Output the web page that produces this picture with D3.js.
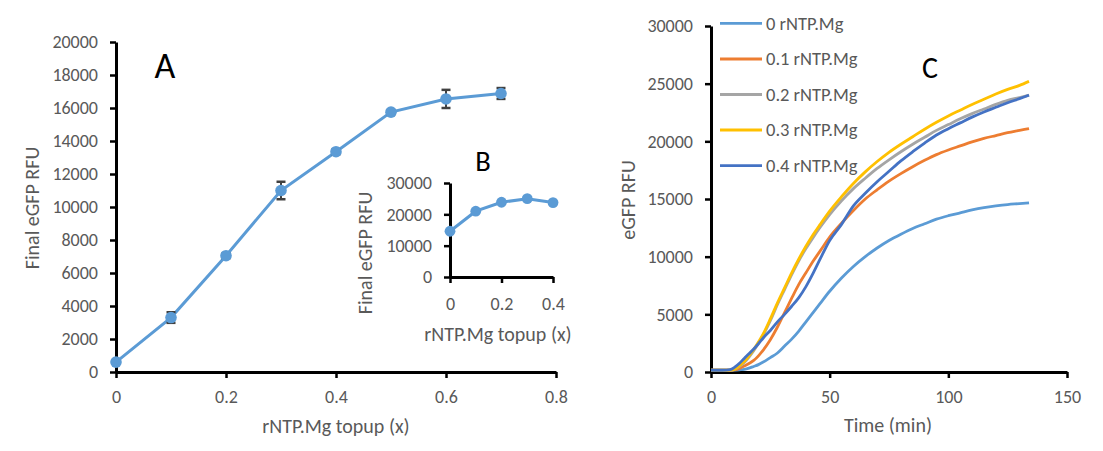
<!DOCTYPE html>
<html>
<head>
<meta charset="utf-8">
<script src="https://cdn.jsdelivr.net/npm/d3@7/dist/d3.min.js"></script>
<style>
  html, body { margin: 0; padding: 0; background: #fff; }
  svg { display: block; font-family: Carlito, Calibri, "Open Sans", sans-serif; }
</style>
</head>
<body>
<svg id="chart" width="1103" height="451"></svg>
<script>
// ---------- Panel A data ----------
const aDose = [0, 0.1, 0.2, 0.3, 0.4, 0.5, 0.6, 0.7];
const aFinal = [600, 3300, 7050, 11000, 13350, 15750, 16550, 16880];
const aErr = [100, 320, 150, 530, 150, 120, 550, 330];
const aXTicks = [0, 0.2, 0.4, 0.6, 0.8];
const aYTicks = [0, 2000, 4000, 6000, 8000, 10000, 12000, 14000, 16000, 18000, 20000];

// ---------- Panel B (inset) data ----------
const bDose = [0, 0.1, 0.2, 0.3, 0.4];
const bFinal = [14600, 21000, 23850, 25000, 23750];
const bXTicks = [0, 0.2, 0.4];
const bYTicks = [0, 10000, 20000, 30000];

// ---------- Panel C data ----------
const timeMin = [0, 5, 8, 10, 12, 14, 16, 18, 20, 22, 25, 28, 31, 34, 37, 40, 43, 46, 50, 55, 60, 65, 70, 75, 80, 85, 90, 95, 100, 105, 110, 115, 120, 125, 130, 134];
const rfu00 = [150, 150, 150, 160, 190, 230, 330, 480, 640, 860, 1250, 1650, 2250, 2850, 3550, 4350, 5150, 5950, 7000, 8150, 9150, 10000, 10750, 11400, 11950, 12450, 12850, 13250, 13550, 13800, 14050, 14250, 14400, 14520, 14600, 14670];
const rfu01 = [150, 150, 150, 180, 300, 520, 740, 1000, 1400, 1900, 2800, 3900, 5150, 6400, 7600, 8600, 9600, 10500, 11700, 12900, 14000, 15000, 15800, 16550, 17200, 17800, 18350, 18850, 19250, 19600, 19950, 20250, 20500, 20750, 20950, 21110];
const rfu02 = [150, 150, 150, 230, 480, 820, 1300, 1850, 2500, 3200, 4450, 5850, 7150, 8450, 9650, 10700, 11650, 12550, 13650, 14850, 15900, 16800, 17650, 18400, 19100, 19750, 20350, 20950, 21450, 21950, 22400, 22800, 23200, 23550, 23800, 24000];
const rfu03 = [150, 150, 160, 250, 550, 900, 1400, 1950, 2600, 3300, 4600, 6000, 7300, 8600, 9800, 10900, 11900, 12800, 13950, 15200, 16350, 17350, 18250, 19050, 19750, 20400, 21050, 21650, 22200, 22700, 23200, 23650, 24100, 24500, 24850, 25200];
const rfu04 = [150, 150, 200, 420, 760, 1180, 1580, 1990, 2450, 2950, 3600, 4350, 5000, 5700, 6450, 7400, 8550, 9800, 11400, 12800, 14400, 15500, 16500, 17400, 18300, 19100, 19850, 20550, 21100, 21600, 22100, 22550, 22950, 23350, 23700, 24000];
const seriesNames = ["0 rNTP.Mg", "0.1 rNTP.Mg", "0.2 rNTP.Mg", "0.3 rNTP.Mg", "0.4 rNTP.Mg"];
const seriesColors = ["#5B9BD5", "#ED7D31", "#A5A5A5", "#FFC000", "#4472C4"];
const cXTicks = [0, 50, 100, 150];
const cYTicks = [0, 5000, 10000, 15000, 20000, 25000, 30000];

const svg = d3.select("#chart");
const TICK_COLOR = "#595959";
const FS = 18;      // tick labels
const TFS = 20;     // axis titles
const LFS = 18.5;   // legend

function styleAxis(g) {
  g.select(".domain").attr("stroke", "#000").attr("stroke-width", 3);
  g.selectAll(".tick line").attr("stroke", "#000").attr("stroke-width", 2.5);
  g.selectAll(".tick text").attr("fill", TICK_COLOR).attr("font-size", FS)
    .attr("font-family", 'Carlito, Calibri, "Open Sans", sans-serif');
}

function drawAxes(x, y, xTicks, yTicks, xFmt, yFmt, xPad) {
  const [y0] = y.range();
  const [x0] = x.range();
  svg.append("g").attr("transform", `translate(0,${y0})`)
    .call(d3.axisBottom(x).tickValues(xTicks).tickSize(6).tickPadding(xPad).tickSizeOuter(0).tickFormat(xFmt))
    .call(styleAxis);
  svg.append("g").attr("transform", `translate(${x0},0)`)
    .call(d3.axisLeft(y).tickValues(yTicks).tickSize(6).tickPadding(12).tickSizeOuter(0).tickFormat(yFmt))
    .call(styleAxis);
}

function title(text, x, y, rotate, size) {
  const t = svg.append("text").text(text)
    .attr("fill", TICK_COLOR).attr("font-size", size || TFS).attr("text-anchor", "middle");
  if (rotate) t.attr("transform", `translate(${x},${y}) rotate(-90)`);
  else t.attr("x", x).attr("y", y);
}

const numFmt = d => String(d);

// ---------- Panel A ----------
const ax = d3.scaleLinear().domain([0, 0.8]).range([116, 556]);
const ay = d3.scaleLinear().domain([0, 20000]).range([372, 42]);
drawAxes(ax, ay, aXTicks, aYTicks, numFmt, numFmt, 12);

const aData = aDose.map((d, i) => ({ x: d, y: aFinal[i], e: aErr[i] }));
svg.append("path").datum(aData)
  .attr("fill", "none").attr("stroke", "#5B9BD5").attr("stroke-width", 3)
  .attr("d", d3.line().x(d => ax(d.x)).y(d => ay(d.y)));
const eb = svg.append("g").attr("stroke", "#404040").attr("stroke-width", 2);
aData.forEach(d => {
  eb.append("line").attr("x1", ax(d.x)).attr("x2", ax(d.x)).attr("y1", ay(d.y - d.e)).attr("y2", ay(d.y + d.e));
  eb.append("line").attr("x1", ax(d.x) - 4.5).attr("x2", ax(d.x) + 4.5).attr("y1", ay(d.y - d.e)).attr("y2", ay(d.y - d.e)).attr("stroke-width", 2.5);
  eb.append("line").attr("x1", ax(d.x) - 4.5).attr("x2", ax(d.x) + 4.5).attr("y1", ay(d.y + d.e)).attr("y2", ay(d.y + d.e)).attr("stroke-width", 2.5);
});
svg.append("g").selectAll("circle").data(aData).join("circle")
  .attr("cx", d => ax(d.x)).attr("cy", d => ay(d.y)).attr("r", 5.8)
  .attr("fill", "#5B9BD5");
title("rNTP.Mg topup (x)", 336, 433);
title("Final eGFP RFU", 39, 208, true);
svg.append("text").text("A").attr("x", 165).attr("y", 78).attr("text-anchor", "middle")
  .attr("font-size", 36).attr("fill", "#000");

// ---------- Panel B (inset) ----------
const bx = d3.scaleLinear().domain([0, 0.4]).range([450, 553]);
const by = d3.scaleLinear().domain([0, 30000]).range([277, 183]);
drawAxes(bx, by, bXTicks, bYTicks, numFmt, numFmt, 14);
const bData = bDose.map((d, i) => ({ x: d, y: bFinal[i] }));
svg.append("path").datum(bData)
  .attr("fill", "none").attr("stroke", "#5B9BD5").attr("stroke-width", 3)
  .attr("d", d3.line().x(d => bx(d.x)).y(d => by(d.y)));
svg.append("g").selectAll("circle").data(bData).join("circle")
  .attr("cx", d => bx(d.x)).attr("cy", d => by(d.y)).attr("r", 5.4)
  .attr("fill", "#5B9BD5");
title("rNTP.Mg topup (x)", 498, 341);
title("Final eGFP RFU", 372, 253, true);
svg.append("text").text("B").attr("x", 483).attr("y", 171).attr("text-anchor", "middle")
  .attr("font-size", 28.5).attr("fill", "#000");

// ---------- Panel C ----------
const cx = d3.scaleLinear().domain([0, 150]).range([711, 1067]);
const cy = d3.scaleLinear().domain([0, 30000]).range([372, 26]);
drawAxes(cx, cy, cXTicks, cYTicks, numFmt, numFmt, 12);
const allSeries = [rfu00, rfu01, rfu02, rfu03, rfu04];
const cLine = d3.line().x(d => cx(d[0])).y(d => cy(d[1])).curve(d3.curveMonotoneX);
allSeries.forEach((vals, i) => {
  svg.append("path").datum(timeMin.map((t, j) => [t, vals[j]]))
    .attr("fill", "none").attr("stroke", seriesColors[i]).attr("stroke-width", 2.8)
    .attr("stroke-linejoin", "round")
    .attr("d", cLine);
});
title("Time (min)", 888, 432);
title("eGFP RFU", 635, 200, true);
svg.append("text").text("C").attr("x", 930).attr("y", 78).attr("text-anchor", "middle")
  .attr("font-size", 30).attr("fill", "#000");

// legend
const legendY = [23.3, 59, 94.5, 130, 165.7];
const lg = svg.append("g");
seriesNames.forEach((name, i) => {
  lg.append("line").attr("x1", 720).attr("x2", 762).attr("y1", legendY[i]).attr("y2", legendY[i])
    .attr("stroke", seriesColors[i]).attr("stroke-width", 2.8);
  lg.append("text").text(name).attr("x", 766).attr("y", legendY[i]).attr("dy", "0.35em")
    .attr("fill", TICK_COLOR).attr("font-size", LFS);
});
</script>
</body>
</html>
